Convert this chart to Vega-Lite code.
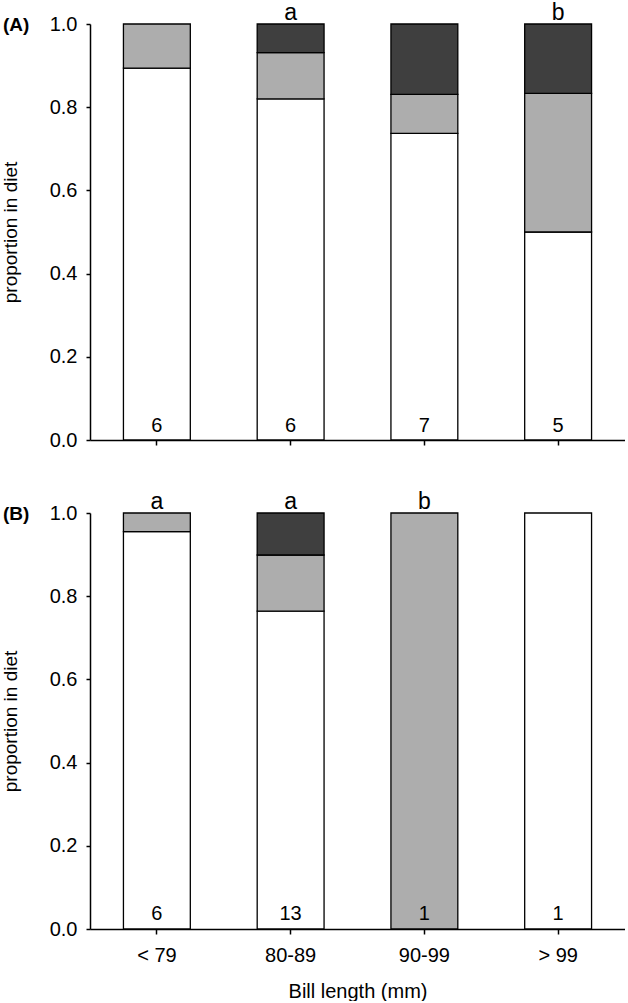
{
  "$schema": "https://vega.github.io/schema/vega-lite/v6.json",
  "padding": {"left": 1, "top": 2, "right": 0, "bottom": 0},
  "spacing": 41,
  "datasets": {
    "diet": [
      {"panel": "A", "bill": "< 79", "prey": "prey 1", "proportion": 0.894},
      {"panel": "A", "bill": "< 79", "prey": "prey 2", "proportion": 0.106},
      {"panel": "A", "bill": "80-89", "prey": "prey 1", "proportion": 0.82},
      {"panel": "A", "bill": "80-89", "prey": "prey 2", "proportion": 0.111},
      {"panel": "A", "bill": "80-89", "prey": "prey 3", "proportion": 0.069},
      {"panel": "A", "bill": "90-99", "prey": "prey 1", "proportion": 0.737},
      {"panel": "A", "bill": "90-99", "prey": "prey 2", "proportion": 0.094},
      {"panel": "A", "bill": "90-99", "prey": "prey 3", "proportion": 0.169},
      {"panel": "A", "bill": "> 99", "prey": "prey 1", "proportion": 0.5},
      {"panel": "A", "bill": "> 99", "prey": "prey 2", "proportion": 0.333},
      {"panel": "A", "bill": "> 99", "prey": "prey 3", "proportion": 0.167},
      {"panel": "B", "bill": "< 79", "prey": "prey 1", "proportion": 0.955},
      {"panel": "B", "bill": "< 79", "prey": "prey 2", "proportion": 0.045},
      {"panel": "B", "bill": "80-89", "prey": "prey 1", "proportion": 0.764},
      {"panel": "B", "bill": "80-89", "prey": "prey 2", "proportion": 0.135},
      {"panel": "B", "bill": "80-89", "prey": "prey 3", "proportion": 0.101},
      {"panel": "B", "bill": "90-99", "prey": "prey 2", "proportion": 1.0},
      {"panel": "B", "bill": "> 99", "prey": "prey 1", "proportion": 1.0}
    ],
    "labels": [
      {"panel": "A", "bill": "< 79", "letter": "", "n": "6"},
      {"panel": "A", "bill": "80-89", "letter": "a", "n": "6"},
      {"panel": "A", "bill": "90-99", "letter": "", "n": "7"},
      {"panel": "A", "bill": "> 99", "letter": "b", "n": "5"},
      {"panel": "B", "bill": "< 79", "letter": "a", "n": "6"},
      {"panel": "B", "bill": "80-89", "letter": "a", "n": "13"},
      {"panel": "B", "bill": "90-99", "letter": "b", "n": "1"},
      {"panel": "B", "bill": "> 99", "letter": "", "n": "1"}
    ]
  },
  "vconcat": [
    {
      "width": 535,
      "height": 416,
      "title": {"text": "(A)", "anchor": "start", "frame": "group", "orient": "top", "fontWeight": "bold", "fontSize": 19, "dx": -87, "dy": 48, "offset": 0, "baseline": "alphabetic"},
      "layer": [
        {
          "data": {"name": "diet"},
          "transform": [{"filter": "datum.panel === 'A'"}],
          "mark": {"type": "bar", "stroke": "black", "strokeWidth": 1.3},
          "encoding": {
            "x": {"field": "bill", "type": "nominal", "sort": ["< 79", "80-89", "90-99", "> 99"], "scale": {"paddingInner": 0.5, "paddingOuter": 0.25},
              "axis": {"labels": false, "title": null, "ticks": true, "tickSize": 5}},
            "y": {"field": "proportion", "type": "quantitative", "stack": "zero", "scale": {"domain": [0, 1], "nice": false},
              "axis": {"title": "proportion in diet", "values": [0, 0.2, 0.4, 0.6, 0.8, 1.0], "format": ".1f", "grid": false}},
            "color": {"field": "prey", "type": "nominal", "scale": {"domain": ["prey 1", "prey 2", "prey 3"], "range": ["#ffffff", "#adadad", "#3f3f3f"]}, "legend": null},
            "order": {"field": "prey", "sort": "ascending"}
          }
        },
        {
          "data": {"name": "labels"},
          "transform": [{"filter": "datum.panel === 'A'"}],
          "mark": {"type": "text", "fontSize": 23, "baseline": "alphabetic", "dy": -4, "color": "black"},
          "encoding": {
            "x": {"field": "bill", "type": "nominal", "sort": ["< 79", "80-89", "90-99", "> 99"]},
            "y": {"datum": 1},
            "text": {"field": "letter"}
          }
        },
        {
          "data": {"name": "labels"},
          "transform": [{"filter": "datum.panel === 'A'"}],
          "mark": {"type": "text", "fontSize": 20, "baseline": "alphabetic", "dy": -8, "color": "black"},
          "encoding": {
            "x": {"field": "bill", "type": "nominal", "sort": ["< 79", "80-89", "90-99", "> 99"]},
            "y": {"datum": 0},
            "text": {"field": "n"}
          }
        }
      ]
    },
    {
      "width": 535,
      "height": 416,
      "title": {"text": "(B)", "anchor": "start", "frame": "group", "orient": "top", "fontWeight": "bold", "fontSize": 19, "dx": -87, "dy": 48, "offset": 0, "baseline": "alphabetic"},
      "layer": [
        {
          "data": {"name": "diet"},
          "transform": [{"filter": "datum.panel === 'B'"}],
          "mark": {"type": "bar", "stroke": "black", "strokeWidth": 1.3},
          "encoding": {
            "x": {"field": "bill", "type": "nominal", "sort": ["< 79", "80-89", "90-99", "> 99"], "scale": {"paddingInner": 0.5, "paddingOuter": 0.25},
              "axis": {"title": "Bill length (mm)", "labelAngle": 0, "tickSize": 5, "labelPadding": 11, "titlePadding": 16}},
            "y": {"field": "proportion", "type": "quantitative", "stack": "zero", "scale": {"domain": [0, 1], "nice": false},
              "axis": {"title": "proportion in diet", "values": [0, 0.2, 0.4, 0.6, 0.8, 1.0], "format": ".1f", "grid": false}},
            "color": {"field": "prey", "type": "nominal", "scale": {"domain": ["prey 1", "prey 2", "prey 3"], "range": ["#ffffff", "#adadad", "#3f3f3f"]}, "legend": null},
            "order": {"field": "prey", "sort": "ascending"}
          }
        },
        {
          "data": {"name": "labels"},
          "transform": [{"filter": "datum.panel === 'B'"}],
          "mark": {"type": "text", "fontSize": 23, "baseline": "alphabetic", "dy": -4, "color": "black"},
          "encoding": {
            "x": {"field": "bill", "type": "nominal", "sort": ["< 79", "80-89", "90-99", "> 99"]},
            "y": {"datum": 1},
            "text": {"field": "letter"}
          }
        },
        {
          "data": {"name": "labels"},
          "transform": [{"filter": "datum.panel === 'B'"}],
          "mark": {"type": "text", "fontSize": 20, "baseline": "alphabetic", "dy": -9, "color": "black"},
          "encoding": {
            "x": {"field": "bill", "type": "nominal", "sort": ["< 79", "80-89", "90-99", "> 99"]},
            "y": {"datum": 0},
            "text": {"field": "n"}
          }
        }
      ]
    }
  ],
  "config": {
    "font": "Liberation Sans",
    "view": {"stroke": null},
    "title": {"color": "black"},
    "axis": {
      "domainColor": "black", "domainWidth": 1.5, "tickColor": "black", "tickWidth": 1.5,
      "labelColor": "black", "labelFontSize": 20, "titleColor": "black", "titleFontSize": 19, "titleFontWeight": "normal"
    },
    "axisY": {"tickSize": 4, "labelPadding": 9, "titlePadding": 29},
    "axisX": {"labelFontSize": 20, "titleFontSize": 20}
  }
}
